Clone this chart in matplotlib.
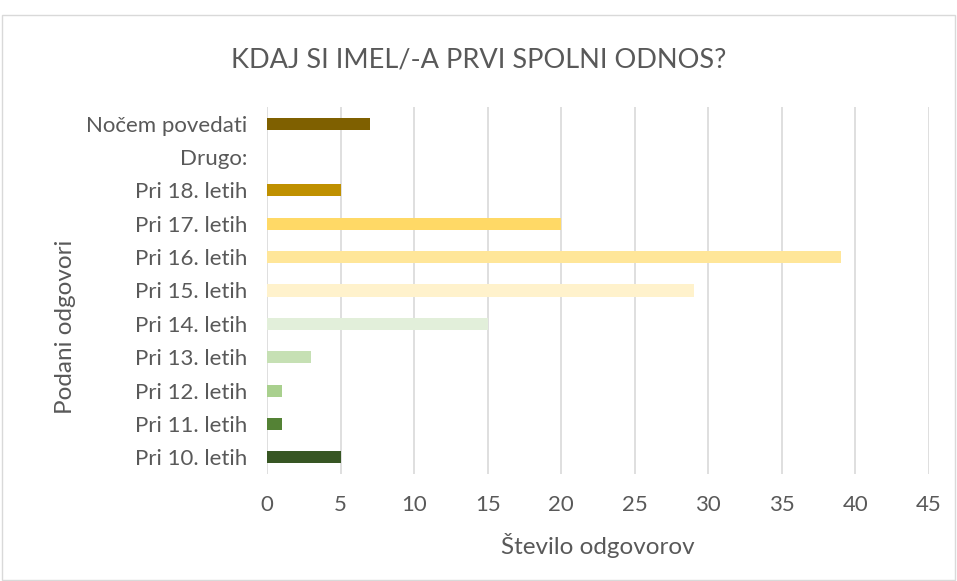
import matplotlib.pyplot as plt

categories = ["Pri 10. letih", "Pri 11. letih", "Pri 12. letih", "Pri 13. letih", "Pri 14. letih",
              "Pri 15. letih", "Pri 16. letih", "Pri 17. letih", "Pri 18. letih", "Drugo:", "Nočem povedati"]
values = [5, 1, 1, 3, 15, 29, 39, 20, 5, 0, 7]
colors = ["#375623", "#548235", "#A9D08E", "#C6E0B4", "#E2EFDA",
          "#FFF2CC", "#FFE699", "#FFD966", "#BF9000", "#BF9000", "#7F6000"]

plt.rcParams['font.family'] = ['Lato', 'DejaVu Sans']
txt = "#595959"

fig = plt.figure(figsize=(9.57, 5.81), dpi=100)
ax = fig.add_axes([267/957, 1-474/581, (929-267)/957, (474-107)/581])

y = list(range(len(categories)))
ax.barh(y, values, height=0.36, color=colors, zorder=3)
ax.set_ylim(-0.5, len(categories)-0.5)
ax.set_xlim(0, 45)
ax.set_xticks(range(0, 50, 5))
ax.set_yticks(y)
ax.set_yticklabels(categories)
ax.grid(axis='x', color="#D9D9D9", linewidth=1.2, zorder=0)
for s in ax.spines.values():
    s.set_visible(False)
ax.tick_params(axis='both', length=0, labelsize=16, colors=txt)
ax.tick_params(axis='x', pad=15)
ax.tick_params(axis='y', pad=14)
ax.set_xlabel("Število odgovorov", fontsize=17.5, color=txt)
ax.xaxis.set_label_coords(0.5, -(546-474)/367)
ax.set_ylabel("Podani odgovori", fontsize=17.5, color=txt)
ax.yaxis.set_label_coords((65-267)/662, (474-327)/367)
ax.xaxis.label.set_va('center')
ax.yaxis.label.set_va('center')
fig.text(0.5, 1-60/581, "KDAJ SI IMEL/-A PRVI SPOLNI ODNOS?", ha='center', va='center',
         fontsize=19.5, color=txt)
fig.patches.append(plt.Rectangle((0.002, 0.002), 0.996, 0.972, transform=fig.transFigure,
                                 fill=False, edgecolor="#D9D9D9", linewidth=1))
fig.savefig("out.png", dpi=100, facecolor="white")
